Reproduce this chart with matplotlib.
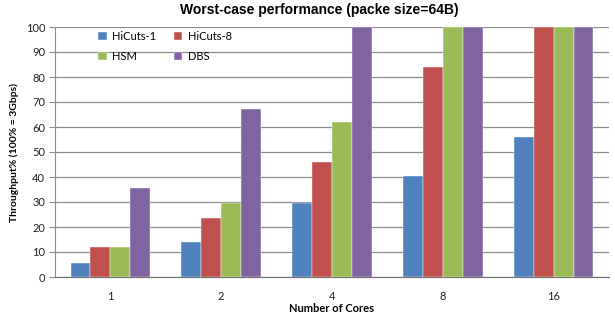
import numpy as np
import matplotlib
matplotlib.use('Agg')
import matplotlib.pyplot as plt

cores = ['1', '2', '4', '8', '16']
hicuts1 = [5.6, 14.2, 29.7, 40.4, 56.0]
hicuts8 = [12.0, 23.5, 46.2, 84.0, 100.0]
hsm = [12.0, 29.8, 62.0, 100.0, 100.0]
dbs = [35.8, 67.2, 100.0, 100.0, 100.0]

series = [('HiCuts-1', hicuts1, '#4F81BD'),
          ('HiCuts-8', hicuts8, '#C0504D'),
          ('HSM', hsm, '#9BBB59'),
          ('DBS', dbs, '#8064A2')]

fig = plt.figure(figsize=(6.15, 3.21), dpi=100)
ax = fig.add_axes([55 / 615, 1 - 277 / 321, (609 - 55) / 615, 250 / 321])

x = np.arange(len(cores))
width = 0.18
bars = []
for i, (name, vals, col) in enumerate(series):
  b = ax.bar(x + (i - 1.5) * width, vals, width, color=col, label=name,
             edgecolor='white', linewidth=0.3, zorder=3)
  bars.append(b)

ax.set_xlim(-0.5, len(cores) - 0.5)
ax.set_ylim(0, 100)
ax.set_yticks(np.arange(0, 101, 10))
ax.set_xticks(x)
ax.set_xticklabels(cores)
ax.yaxis.grid(True, color='#8c8c8c', linewidth=0.9, zorder=0)
ax.set_axisbelow(True)

for side in ('top', 'right'):
  ax.spines[side].set_visible(False)
ax.spines['left'].set_color('#8c8c8c')
ax.spines['bottom'].set_color('#6e6e6e')
ax.tick_params(axis='y', length=4, color='#8c8c8c', labelsize=8,
               labelcolor='#222222', pad=3)
ax.tick_params(axis='x', length=0, labelsize=8, labelcolor='#222222', pad=10)
for lab in ax.get_xticklabels() + ax.get_yticklabels():
  lab.set_family('Lato')

ax.set_ylabel('Throughput% (100% = 3Gbps)', fontsize=7.5, fontweight='bold',
              family='Lato', labelpad=5)
ax.set_xlabel('Number of Cores', fontsize=8, fontweight='bold',
              family='Lato', labelpad=1)
fig.text(0.52, 1 - 10 / 321, 'Worst-case performance (packe size=64B)',
         ha='center', va='center', fontsize=10, fontweight='bold',
         family='Liberation Sans')

# legend filled row by row: HiCuts-1, HiCuts-8 / HSM, DBS
order = [0, 2, 1, 3]
ax.legend([bars[k] for k in order], [series[k][0] for k in order],
          loc='upper left', bbox_to_anchor=(0.06, 1.025), ncol=2, frameon=False,
          prop={'family': 'Lato', 'size': 8},
          handlelength=0.75, handleheight=0.75, handletextpad=0.5,
          columnspacing=1.6, labelspacing=0.85)

fig.savefig('out.png', dpi=100)
